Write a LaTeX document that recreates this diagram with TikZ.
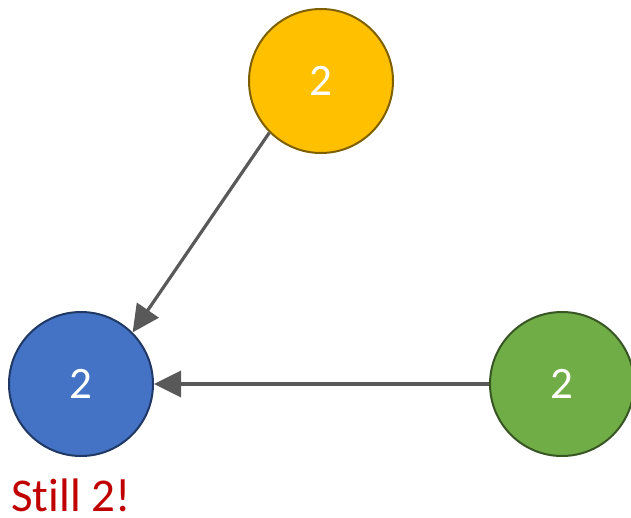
\documentclass[tikz,border=0pt]{standalone}
\usepackage{fontspec}
\setmainfont[Ligatures=NoCommon]{Carlito}
\usetikzlibrary{arrows.meta}
\definecolor{goldfill}{HTML}{FFC000}
\definecolor{golddraw}{HTML}{7F6000}
\definecolor{bluefill}{HTML}{4472C4}
\definecolor{bluedraw}{HTML}{1F3864}
\definecolor{greenfill}{HTML}{70AD47}
\definecolor{greendraw}{HTML}{375623}
\definecolor{linkgray}{HTML}{595959}
\definecolor{notered}{HTML}{C00000}
\tikzset{
  counter/.style={circle, minimum size=144pt, inner sep=0pt, line width=2pt,
    text=white, font=\fontsize{45}{45}\selectfont},
  link/.style={draw=linkgray, line width=3.2pt,
    -{Triangle[length=27pt, width=26pt]}},
}
\begin{document}
\begin{tikzpicture}[x=1pt, y=-1pt]
  \useasboundingbox (0,0) rectangle (631,517);
  \fill[white] (0,0) rectangle (631,517);

  \node[counter, fill=goldfill, draw=golddraw] (top) at (321,81) {2};
  \node[counter, fill=bluefill, draw=bluedraw] (left) at (81,384) {2};
  \node[counter, fill=greenfill, draw=greendraw] (right) at (562,384) {2};

  \draw[link] (top.south west) -- (left.north east);
  \draw[link] (right.west) -- (left.east);

  \node[anchor=base west, inner sep=0pt, text=notered,
        font=\fontsize{47}{47}\selectfont] (note) at (11,511) {Still 2!};
\end{tikzpicture}
\end{document}
